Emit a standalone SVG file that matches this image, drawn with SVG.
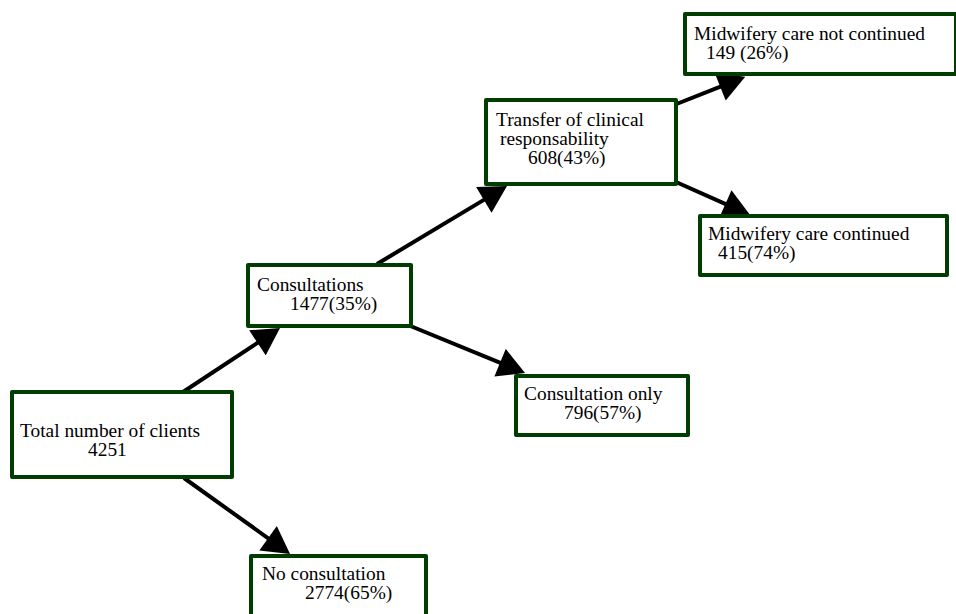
<svg xmlns="http://www.w3.org/2000/svg" width="956" height="614" viewBox="0 0 956 614">
<style>
.box{fill:#ffffff;stroke:#003d00;stroke-width:4;stroke-linejoin:round}
.t{font-family:"Liberation Serif","Times New Roman",serif;font-size:19.4px;fill:#000000}
.c{stroke:#000000;stroke-width:4;fill:none}
</style>
<defs>
<marker id="ah" markerUnits="userSpaceOnUse" markerWidth="28" markerHeight="30" viewBox="0 0 27 30" refX="1" refY="15" orient="auto">
<path d="M0,0 L27,15 L0,30 z" fill="#000000"/>
</marker>
</defs>
<rect width="956" height="614" fill="#ffffff"/>
<g id="connectors">
<line class="c" x1="183" y1="392" x2="258.3" y2="342.3" marker-end="url(#ah)"/>
<line class="c" x1="184" y1="478" x2="268.9" y2="538.8" marker-end="url(#ah)"/>
<line class="c" x1="377" y1="264" x2="484.7" y2="199.4" marker-end="url(#ah)"/>
<line class="c" x1="408" y1="325" x2="501" y2="363.1" marker-end="url(#ah)"/>
<line class="c" x1="674" y1="105" x2="721.1" y2="86.3" marker-end="url(#ah)"/>
<line class="c" x1="676" y1="182" x2="726.3" y2="204.4" marker-end="url(#ah)"/>
</g>
<g id="total">
<rect class="box" x="12" y="392" width="220" height="85"/>
<text class="t" x="20" y="437">Total number of clients</text>
<text class="t" x="88" y="456">4251</text>
</g>
<g id="noconsult">
<rect class="box" x="251" y="556" width="175" height="70"/>
<text class="t" x="262" y="580">No consultation</text>
<text class="t" x="305" y="599">2774(65%)</text>
</g>
<g id="consultations">
<rect class="box" x="248" y="265" width="163" height="61"/>
<text class="t" x="257" y="291">Consultations</text>
<text class="t" x="290" y="310">1477(35%)</text>
</g>
<g id="consultonly">
<rect class="box" x="516" y="376" width="172" height="59"/>
<text class="t" x="524" y="400">Consultation only</text>
<text class="t" x="564" y="419">796(57%)</text>
</g>
<g id="transfer">
<rect class="box" x="486" y="100" width="190" height="84"/>
<text class="t" x="496" y="126">Transfer of clinical</text>
<text class="t" x="500" y="145">responsability</text>
<text class="t" x="528" y="164">608(43%)</text>
</g>
<g id="notcontinued">
<rect class="box" x="685" y="14" width="271" height="60"/>
<text class="t" x="694" y="40">Midwifery care not continued</text>
<text class="t" x="706" y="59">149 (26%)</text>
</g>
<g id="continued">
<rect class="box" x="700" y="216" width="247" height="59"/>
<text class="t" x="708" y="240">Midwifery care continued</text>
<text class="t" x="718" y="259">415(74%)</text>
</g>
</svg>
